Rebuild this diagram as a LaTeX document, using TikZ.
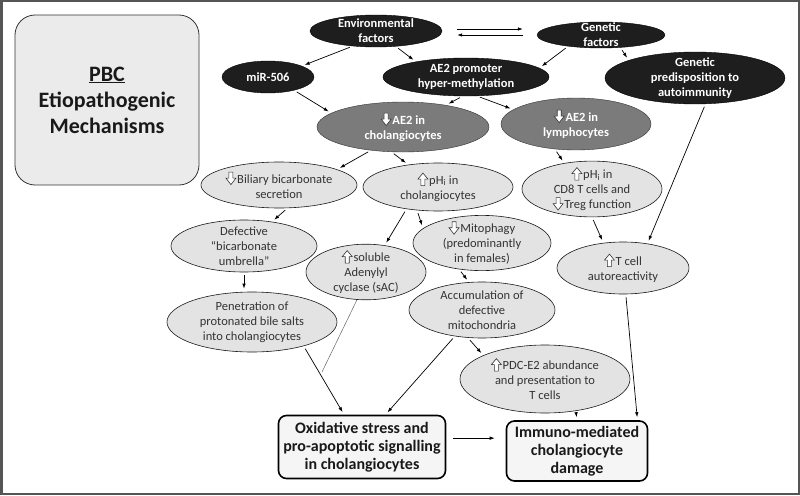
\documentclass[tikz,border=0pt]{standalone}
\usepackage{fontspec}
\setmainfont{Carlito}
\usetikzlibrary{shapes.geometric,arrows.meta}

\definecolor{framegray}{HTML}{555555}
\definecolor{darkfill}{HTML}{1E1E1E}
\definecolor{midfill}{HTML}{7B7B7B}
\definecolor{lightfill}{HTML}{E3E3E3}
\definecolor{boxfill}{HTML}{F5F5F5}
\definecolor{titlefill}{HTML}{EBEBEB}
\definecolor{textgray}{HTML}{333333}

% hollow block arrows used inside the labels
\newcommand{\arrdn}{\tikz[baseline=0pt, x=1pt, y=1pt]\draw[black!80, fill=white, line width=0.6pt]
  (-2,11) -- (2,11) -- (2,5) -- (5,5) -- (0,-1.5) -- (-5,5) -- (-2,5) -- cycle;\hspace{1pt}}
\newcommand{\arrup}{\tikz[baseline=0pt, x=1pt, y=1pt]\draw[black!80, fill=white, line width=0.6pt]
  (-2,-1.5) -- (2,-1.5) -- (2,5) -- (5,5) -- (0,11) -- (-5,5) -- (-2,5) -- cycle;\hspace{1pt}}

\tikzset{
  darkell/.style={ellipse, draw=black, fill=darkfill, text=white, inner sep=-2pt, align=center,
    font=\bfseries\fontsize{12.5}{15}\selectfont},
  midell/.style={darkell, fill=midfill, draw=black!80},
  lightell/.style={ellipse, draw=black!90, line width=0.6pt, fill=lightfill, text=textgray, inner sep=-2pt, align=center,
    font=\fontsize{12.5}{15}\selectfont},
  endbox/.style={draw=black, line width=1.6pt, rounded corners=8pt, fill=boxfill, align=center,
    font=\bfseries\fontsize{16}{18}\selectfont, text=black!90},
  link/.style={-{Latex[length=5pt,width=3.5pt]}, line width=0.7pt, shorten <=3pt, shorten >=3pt},
}

\begin{document}
\begin{tikzpicture}[x=1pt,y=-1pt]

\useasboundingbox (0,0) rectangle (800,495);
\fill[white] (0,0) rectangle (800,495);
\draw[framegray, line width=2.5pt] (1.25,1.25) rectangle (798.75,493.75);

\node[draw=black!80, line width=0.8pt, fill=titlefill, rounded corners=20pt,
  minimum width=184pt, minimum height=170pt, align=center,
  font=\bfseries\fontsize{22}{26}\selectfont, text=black!90] (title) at (107,100)
  {\underline{PBC}\\Etiopathogenic\\Mechanisms};

% causes
\node[darkell, minimum width=132pt, minimum height=32pt] (env) at (376,31) {Environmental\\factors};
\node[darkell, inner sep=-5pt, minimum width=128pt, minimum height=26pt] (gen) at (601,35) {Genetic\\factors};
\node[darkell, minimum width=92pt, minimum height=32pt] (mir) at (268,77) {miR-506};
\node[darkell, minimum width=166pt, minimum height=38pt] (prom) at (466,77) {AE2 promoter\\hyper-methylation};
\node[darkell, minimum width=180pt, minimum height=44pt] (pred) at (695,78) {Genetic\\predisposition to\\autoimmunity};

\node[midell, minimum width=172pt, minimum height=50pt] (aechol) at (403,127) {\arrdn AE2 in\\cholangiocytes};
\node[midell, minimum width=150pt, minimum height=52pt] (aelym) at (576,124) {\arrdn AE2 in\\lymphocytes};

% effects
\node[lightell, minimum width=156pt, minimum height=46pt] (bili) at (279,185) {\arrdn Biliary bicarbonate\\secretion};
\node[lightell, minimum width=150pt, minimum height=48pt] (phchol) at (438,187) {\arrup pH\textsubscript{i} in\\cholangiocytes};
\node[lightell, minimum width=140pt, minimum height=54pt] (phcd) at (592,189) {\arrup pH\textsubscript{i} in\\CD8 T cells and\\\arrdn Treg function};
\node[lightell, minimum width=146pt, minimum height=52pt] (umb) at (244,246) {Defective\\“bicarbonate\\umbrella”};
\node[lightell, minimum width=120pt, minimum height=50pt] (sac) at (366,272) {\arrup soluble\\Adenylyl\\cyclase (sAC)};
\node[lightell, minimum width=138pt, minimum height=54pt] (mito) at (482,243) {\arrdn Mitophagy\\(predominantly\\in females)};
\node[lightell, minimum width=132pt, minimum height=52pt] (tauto) at (623,268) {\arrup T cell\\autoreactivity};
\node[lightell, minimum width=170pt, minimum height=60pt] (pen) at (252,322) {Penetration of\\protonated bile salts\\into cholangiocytes};
\node[lightell, minimum width=146pt, minimum height=56pt] (acc) at (482,310) {Accumulation of\\defective\\mitochondria};
\node[lightell, minimum width=170pt, minimum height=68pt] (pdc) at (545,379) {\arrup PDC-E2 abundance\\and presentation to\\T cells};

\node[endbox, minimum width=167pt, minimum height=63pt] (ox) at (362,447) {Oxidative stress and\\pro-apoptotic signalling\\in cholangiocytes};
\node[endbox, minimum width=141pt, minimum height=60pt] (imm) at (577,451) {Immuno-mediated\\cholangiocyte\\damage};

\coordinate (join) at (322,372);

\draw[link, shorten <=15pt, shorten >=14pt] ([yshift=2pt]env.east) -- ([yshift=2pt]env.east -| gen.west);
\draw[link, shorten <=14pt, shorten >=15pt] (gen.west) -- (gen.west -| env.east);

\draw[link] (env.213) -- (mir.18);
\draw[link] (env.322) -- (prom.163);
\draw[link] (gen.199) -- (prom.7);
\draw[link] (gen.327) -- (pred.165);
\draw[link] (mir.333) -- (aechol.169);
\draw[link] (prom.260) -- (aechol.27);
\draw[link] (prom.300) -- (aelym.167);
\draw[link] (aechol.216) -- (bili.15);
\draw[link] (aechol.245) -- (phchol.143);
\draw[link] (aelym.230) -- (phcd.137);
\draw[link] (pred.292) -- (tauto.45);
\draw[link] (phcd.270) -- (tauto.128);
\draw[link] (bili.290) -- (umb.41);
\draw[link] (phchol.215) -- (sac.55);
\draw[link] (phchol.228) -- (mito.166);
\draw[link] (umb.south) -- (umb.south |- pen.north);
\draw[link] (mito.229) -- (acc.115);
\draw[black!60, line width=0.5pt] (sac.252) -- (join);
\draw[link] (pen.335) -- (ox.119);
\draw[link] (acc.224) -- (ox.54);
\draw[link] (acc.243) -- (pdc.159);
\draw[link] (pdc.314) -- (imm.north);
\draw[link] (tauto.276) -- (imm.27);
\draw[link, shorten <=7pt, shorten >=11pt] (ox.6) -- (ox.6 -| imm.west);

\end{tikzpicture}
\end{document}
